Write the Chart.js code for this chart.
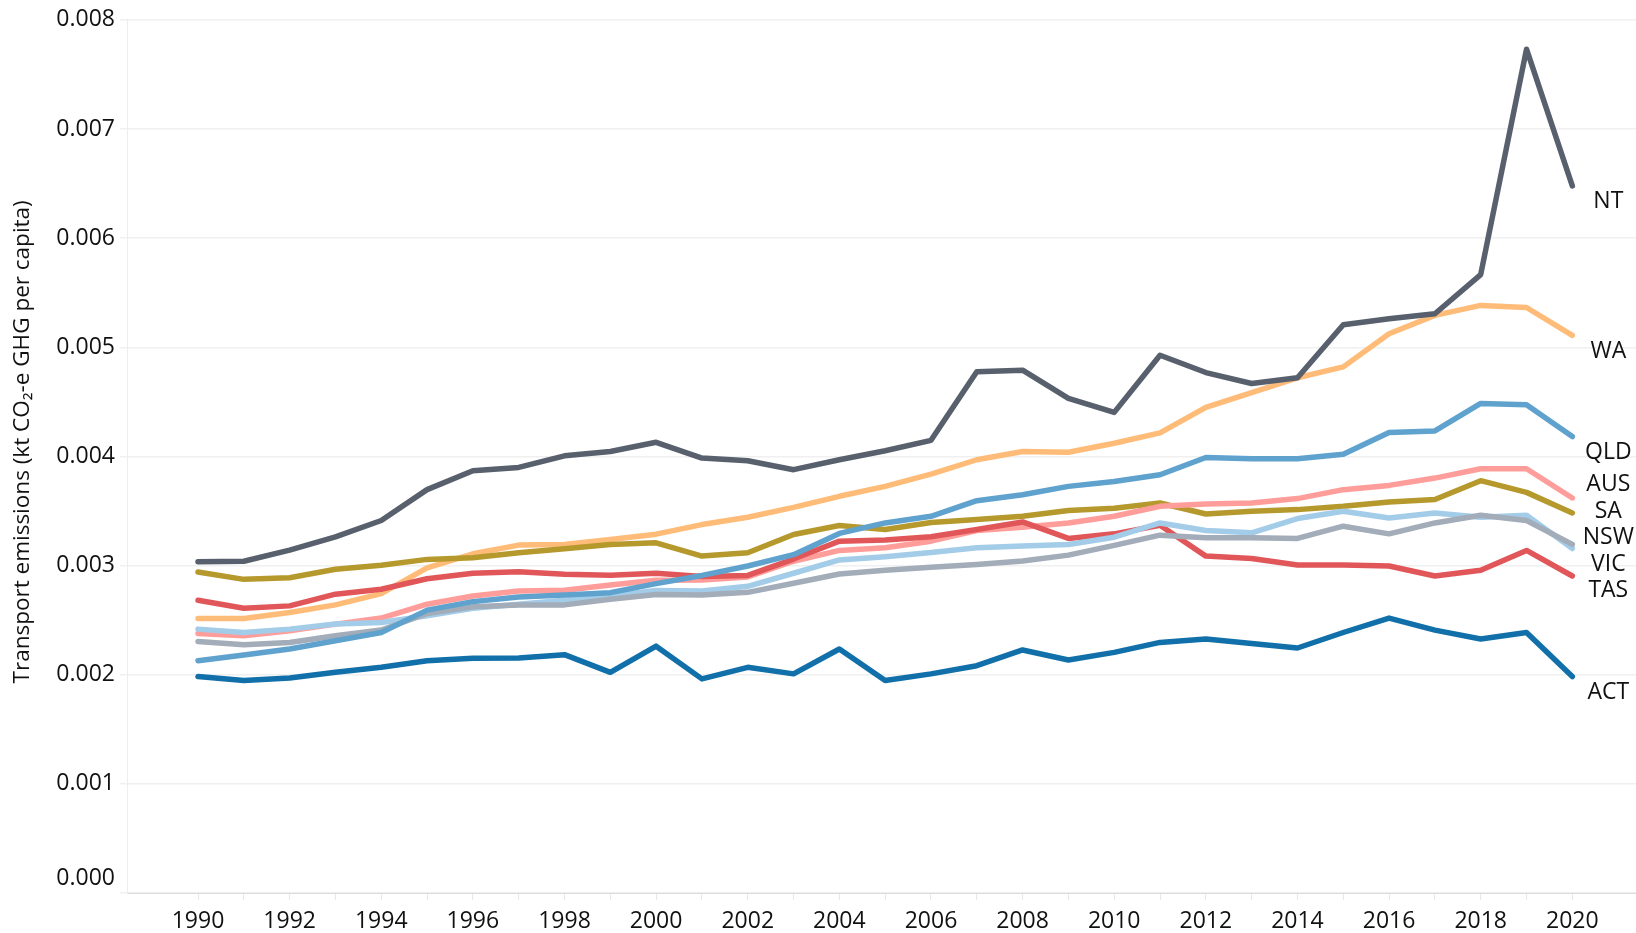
<!DOCTYPE html>
<html>
<head>
<meta charset="utf-8">
<title>Transport emissions per capita</title>
<script src="https://cdn.jsdelivr.net/npm/chart.js@4.4.1/dist/chart.umd.min.js"></script>
<style>
  html, body { margin: 0; padding: 0; background: #fff; }
  #wrap { width: 1636px; height: 933px; position: relative; }
</style>
</head>
<body>
<div id="wrap"><canvas id="chartEmissions"></canvas></div>
<script>
const years = [1990, 1991, 1992, 1993, 1994, 1995, 1996, 1997, 1998, 1999,
  2000, 2001, 2002, 2003, 2004, 2005, 2006, 2007, 2008, 2009,
  2010, 2011, 2012, 2013, 2014, 2015, 2016, 2017, 2018, 2019, 2020];

const yTicks = [0, 0.001, 0.002, 0.003, 0.004, 0.005, 0.006, 0.007, 0.008];

// kt CO2-e GHG per capita
const nt = [0.003035, 0.003040, 0.003142, 0.003263, 0.003413, 0.003696, 0.003869, 0.003900, 0.004006, 0.004045,
  0.004130, 0.003985, 0.003961, 0.003879, 0.003970, 0.004052, 0.004148, 0.004776, 0.004791, 0.004532,
  0.004404, 0.004928, 0.004769, 0.004669, 0.004721, 0.005207, 0.005262, 0.005308, 0.005667, 0.007732, 0.006479];
const wa = [0.002515, 0.002515, 0.002570, 0.002640, 0.002743, 0.002980, 0.003108, 0.003188, 0.003194, 0.003240,
  0.003288, 0.003376, 0.003443, 0.003534, 0.003635, 0.003726, 0.003838, 0.003970, 0.004045, 0.004039,
  0.004121, 0.004216, 0.004450, 0.004585, 0.004721, 0.004821, 0.005125, 0.005293, 0.005384, 0.005365, 0.005110];
const qld = [0.002129, 0.002181, 0.002236, 0.002312, 0.002387, 0.002592, 0.002670, 0.002713, 0.002731, 0.002752,
  0.002835, 0.002910, 0.002996, 0.003100, 0.003295, 0.003391, 0.003452, 0.003595, 0.003650, 0.003726,
  0.003770, 0.003833, 0.003991, 0.003979, 0.003979, 0.004021, 0.004220, 0.004234, 0.004486, 0.004474, 0.004182];
const aus = [0.002378, 0.002357, 0.002403, 0.002464, 0.002519, 0.002646, 0.002722, 0.002768, 0.002774, 0.002822,
  0.002865, 0.002868, 0.002896, 0.003040, 0.003139, 0.003163, 0.003224, 0.003322, 0.003352, 0.003391,
  0.003452, 0.003543, 0.003564, 0.003574, 0.003614, 0.003696, 0.003735, 0.003802, 0.003888, 0.003888, 0.003620];
const sa = [0.002941, 0.002874, 0.002889, 0.002966, 0.003003, 0.003057, 0.003072, 0.003117, 0.003154, 0.003194,
  0.003209, 0.003087, 0.003118, 0.003285, 0.003368, 0.003331, 0.003395, 0.003422, 0.003452, 0.003504,
  0.003525, 0.003574, 0.003473, 0.003498, 0.003513, 0.003543, 0.003583, 0.003605, 0.003778, 0.003671, 0.003483];
const nsw = [0.002305, 0.002275, 0.002296, 0.002357, 0.002409, 0.002561, 0.002622, 0.002640, 0.002640, 0.002692,
  0.002735, 0.002731, 0.002755, 0.002838, 0.002923, 0.002957, 0.002985, 0.003011, 0.003042, 0.003096,
  0.003185, 0.003279, 0.003255, 0.003255, 0.003249, 0.003361, 0.003291, 0.003391, 0.003461, 0.003413, 0.003194];
const vic = [0.002418, 0.002387, 0.002418, 0.002464, 0.002479, 0.002540, 0.002610, 0.002646, 0.002683, 0.002722,
  0.002771, 0.002768, 0.002810, 0.002930, 0.003052, 0.003082, 0.003120, 0.003163, 0.003179, 0.003194,
  0.003260, 0.003391, 0.003322, 0.003300, 0.003431, 0.003498, 0.003437, 0.003483, 0.003443, 0.003461, 0.003157];
const tas = [0.002683, 0.002610, 0.002631, 0.002738, 0.002783, 0.002880, 0.002929, 0.002944, 0.002920, 0.002911,
  0.002930, 0.002900, 0.002910, 0.003060, 0.003224, 0.003235, 0.003265, 0.003331, 0.003400, 0.003249,
  0.003291, 0.003370, 0.003087, 0.003066, 0.003005, 0.003005, 0.002996, 0.002905, 0.002957, 0.003139, 0.002905];
const act = [0.001983, 0.001947, 0.001971, 0.002022, 0.002068, 0.002129, 0.002150, 0.002153, 0.002184, 0.002022,
  0.002262, 0.001962, 0.002068, 0.002008, 0.002236, 0.001947, 0.002008, 0.002083, 0.002227, 0.002135,
  0.002205, 0.002296, 0.002327, 0.002287, 0.002245, 0.002387, 0.002519, 0.002409, 0.002327, 0.002387, 0.001983];

// first entry is drawn on top
const series = [
  { label: 'ACT', data: act, color: '#1170aa' },
  { label: 'NT', data: nt, color: '#57606c' },
  { label: 'QLD', data: qld, color: '#5fa2ce' },
  { label: 'NSW', data: nsw, color: '#a3acb9' },
  { label: 'VIC', data: vic, color: '#a3cce9' },
  { label: 'TAS', data: tas, color: '#e15759' },
  { label: 'AUS', data: aus, color: '#ff9d9a' },
  { label: 'SA', data: sa, color: '#b6992d' },
  { label: 'WA', data: wa, color: '#ffbc79' },
];

const textColor = '#111';
const fontFamily = "'Segoe UI', 'Open Sans', sans-serif";
Chart.defaults.font.family = fontFamily;
Chart.defaults.font.size = 23;
Chart.defaults.color = textColor;

// state name at the end of each line, spread apart where they crowd
const endLabels = {
  id: 'endLabels',
  afterDatasetsDraw(chart) {
    const { ctx } = chart;
    const gap = 26.5;
    const items = chart.data.datasets.map((ds, i) => {
      const pts = chart.getDatasetMeta(i).data;
      const last = pts[pts.length - 1];
      return { text: ds.label, x: last.x + 36, end: last.y };
    }).sort((a, b) => a.end - b.end);

    const groups = items.map((it) => ({ items: [it], c: it.end }));
    let merged = true;
    while (merged) {
      merged = false;
      for (let i = 0; i < groups.length - 1; i++) {
        const a = groups[i];
        const b = groups[i + 1];
        const aBottom = a.c + (a.items.length - 1) * gap / 2;
        const bTop = b.c - (b.items.length - 1) * gap / 2;
        if (bTop - aBottom < gap) {
          const all = a.items.concat(b.items);
          const c = all.reduce((s, it) => s + it.end, 0) / all.length;
          groups.splice(i, 2, { items: all, c });
          merged = true;
          break;
        }
      }
    }

    ctx.save();
    ctx.font = '23px ' + fontFamily;
    ctx.fillStyle = textColor;
    ctx.textAlign = 'center';
    ctx.textBaseline = 'middle';
    groups.forEach((g) => {
      const shift = g.items.length === 1 ? 16 : 2;
      const top = g.c + shift - (g.items.length - 1) * gap / 2;
      g.items.forEach((it, k) => ctx.fillText(it.text, it.x, top + k * gap));
    });
    ctx.restore();
  },
};

new Chart(document.getElementById('chartEmissions'), {
  type: 'line',
  data: {
    datasets: series.map((s) => ({
      label: s.label,
      data: s.data.map((v, i) => ({ x: years[i], y: v })),
      borderColor: s.color,
      backgroundColor: s.color,
      borderWidth: 5.5,
      borderCapStyle: 'round',
      borderJoinStyle: 'round',
      pointRadius: 0,
      tension: 0,
      clip: false,
    })),
  },
  options: {
    responsive: true,
    maintainAspectRatio: false,
    animation: false,
    layout: { padding: { top: 17, right: 0, bottom: 0, left: 0 } },
    plugins: {
      legend: { display: false },
      tooltip: { enabled: false },
    },
    scales: {
      x: {
        type: 'linear',
        min: 1988.45,
        max: 2021.39,
        afterBuildTicks: (scale) => { scale.ticks = years.map((v) => ({ value: v })); },
        afterFit: (scale) => { scale.height = 40; },
        ticks: {
          autoSkip: false,
          maxRotation: 0,
          padding: 8,
          callback: (v) => (v % 2 === 0 ? String(v) : ''),
        },
        grid: { drawOnChartArea: false, tickLength: 7, color: '#e8e8e8' },
        border: { color: '#dcdcdc', dash: [2, 2] },
      },
      y: {
        min: 0,
        max: 0.008,
        afterBuildTicks: (scale) => { scale.ticks = yTicks.map((v) => ({ value: v })); },
        afterFit: (scale) => { scale.width = 127; },
        ticks: {
          padding: 5,
          font: { lineHeight: 1.3 },
          // the bottom label sits above its gridline
          callback: (v) => (v === 0 ? [v.toFixed(3), ''] : v.toFixed(3)),
        },
        grid: { color: '#f0f0f0', lineWidth: 1.5, tickLength: 7 },
        border: { color: '#eeeeee' },
        title: {
          display: true,
          text: '\u00a0\u00a0\u00a0\u00a0\u00a0Transport emissions (kt CO₂-e GHG per capita)',
          font: { size: 22.5 },
          padding: { top: 9, bottom: 0 },
        },
      },
    },
  },
  plugins: [endLabels],
});
</script>
</body>
</html>
